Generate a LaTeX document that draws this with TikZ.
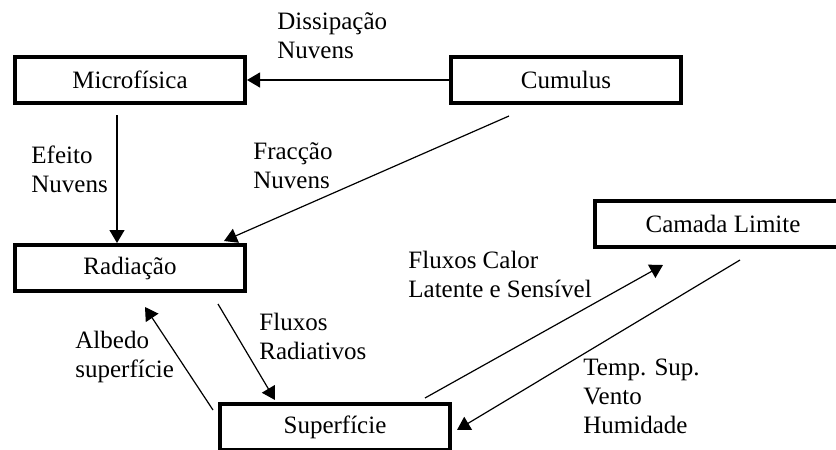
\documentclass[tikz,border=0pt]{standalone}
\usepackage{fontspec}
\setmainfont{Liberation Serif}
\usetikzlibrary{arrows.meta}

\begin{document}
\begin{tikzpicture}[x=0.5pt,y=-0.5pt,
    font=\fontsize{12.5}{14.5}\selectfont,
    block/.style={draw,line width=2pt,minimum width=115pt,minimum height=23pt,inner sep=0pt},
    note/.style={align=left,anchor=north west,inner sep=0pt},
    flow/.style={-{Triangle[length=6.5pt,width=7.5pt]},line width=0.6pt}]
      \useasboundingbox (0,0) rectangle (836,450);
      % modules
      \node[block] (micro) at (130,80) {Microfísica};
      \node[block] (cumulus) at (566,80) {Cumulus};
      \node[block] (radiacao) at (130,268) {Radiação};
      \node[block,minimum width=128pt] (camada) at (723,224) {Camada Limite};
      \node[block] (superficie) at (335,427) {Superfície};

      % labels of the exchanges
      \node[note] (dissipacao) at (277,12) {Dissipação\\Nuvens};
      \node[note] (efeito) at (31,145) {Efeito\\Nuvens};
      \node[note] (fraccao) at (253,142) {Fracção\\Nuvens};
      \node[note] (calor) at (408,251) {Fluxos Calor\\Latente e Sensível};
      \node[note] (albedo) at (75,331) {Albedo\\superfície};
      \node[note] (radiativos) at (259,313) {Fluxos\\Radiativos};
      \node[note] (temp) at (583,359) {Temp. Sup.\\Vento\\Humidade};

      % arrows between modules
      \draw[flow] (cumulus) -- (micro);
      \draw[flow] ([xshift=-6.5pt,yshift=-5pt]micro.south) -- ([xshift=-6.5pt]radiacao.north);
      \draw[flow] ([xshift=-28.5pt,yshift=-5.5pt]cumulus.south) -- ([xshift=-11.5pt,yshift=1pt]radiacao.north east);
      \draw[flow] ([xshift=44pt,yshift=-5.5pt]radiacao.south) -- ([xshift=-30pt,yshift=1pt]superficie.north);
      \draw[flow] ([xshift=-2.5pt,yshift=-4pt]superficie.north west) -- ([xshift=7.5pt,yshift=-7pt]radiacao.south);
      \draw[flow] ([xshift=-13.5pt,yshift=2pt]superficie.north east) -- ([xshift=-30pt,yshift=-8pt]camada.south);
      \draw[flow] ([xshift=8.5pt,yshift=-5.5pt]camada.south) -- ([xshift=2.5pt,yshift=-1.5pt]superficie.east);
    \end{tikzpicture}
\end{document}
